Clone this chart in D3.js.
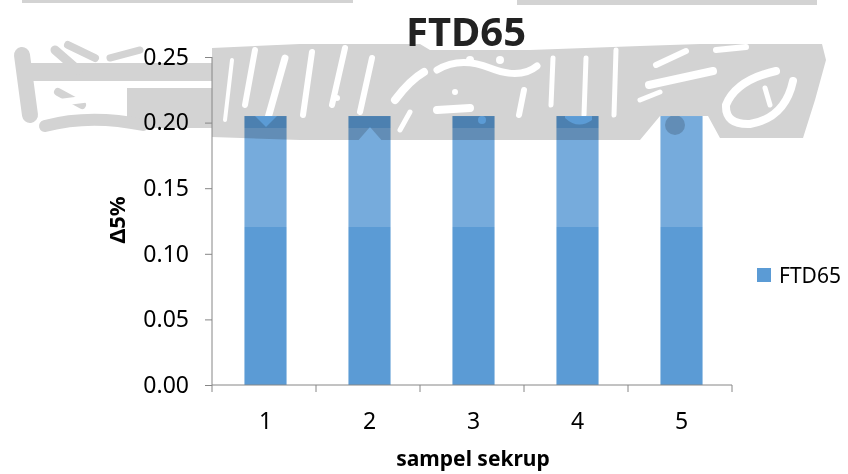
<!DOCTYPE html>
<html>
<head>
<meta charset="utf-8">
<script src="https://cdn.jsdelivr.net/npm/d3@7"></script>
<style>
  html, body { margin: 0; padding: 0; background: #fff; }
  svg { display: block; font-family: "Noto Sans", "Open Sans", sans-serif; }
</style>
</head>
<body>
<svg id="chart" width="848" height="474"></svg>
<script>
// Chart data
const categories = ["1", "2", "3", "4", "5"];
const seriesName = "FTD65";
const values = [0.205, 0.205, 0.205, 0.205, 0.205];
const yTickValues = [0, 0.05, 0.10, 0.15, 0.20, 0.25];
const chartTitle = "FTD65";
const xAxisTitle = "sampel sekrup";
const yAxisTitle = "Δ5%";

const W = 848, H = 474;
const plot = { left: 212, right: 732, top: 57, bottom: 385 };
const barColor = "#5B9BD5";
const axisColor = "#868686";

const svg = d3.select("#chart");

const x = d3.scaleBand()
  .domain(categories)
  .range([plot.left + 1.5, plot.right + 1.5])
  .paddingInner(0.595)
  .paddingOuter(0.2975);

const y = d3.scaleLinear()
  .domain([0, 0.25])
  .range([plot.bottom, plot.top]);

// Bars
svg.append("g")
  .selectAll("rect")
  .data(values)
  .join("rect")
  .attr("x", (d, i) => x(categories[i]))
  .attr("y", d => y(d))
  .attr("width", x.bandwidth())
  .attr("height", d => y(0) - y(d))
  .attr("fill", barColor);

// Light haze across the upper part of the plot (below the grey logo)
const hazeBands = [
  { x0: plot.left + 1, x1: 655, top: 128 },
  { x0: 655, x1: 712, top: 116 },
  { x0: 712, x1: plot.right, top: 128 }
];
svg.append("g").selectAll("rect").data(hazeBands).join("rect")
  .attr("x", d => d.x0)
  .attr("y", d => d.top)
  .attr("width", d => d.x1 - d.x0)
  .attr("height", d => 227 - d.top)
  .attr("fill", "#fff")
  .attr("opacity", 0.17);

// Grey logo across the top, drawn with multiply so text and bars show through
const defs = svg.append("defs");
const mask = defs.append("mask").attr("id", "logo-gaps")
  .attr("maskUnits", "userSpaceOnUse")
  .attr("x", 0).attr("y", 0).attr("width", W).attr("height", H);
mask.append("rect").attr("width", W).attr("height", H).attr("fill", "#fff");

const gapStrokes = [
  ["M245,105 L255,50", 6], ["M268,118 L285,58", 7], ["M303,115 L312,52", 6],
  ["M332,105 L345,48", 6], ["M360,112 L372,58", 6], ["M395,100 Q410,80 424,72", 8],
  ["M437,70 Q460,56 490,68 T537,66", 7], ["M437,110 L470,108", 8],
  ["M519,115 L524,90", 6], ["M551,105 L553,58", 5], ["M584,115 L586,58", 5],
  ["M614,115 L616,50", 5], ["M649,85 L713,71", 8], ["M656,65 L686,51", 6],
  ["M776,71 Q736,80 726,105 Q725,125 750,124 Q785,118 793,81", 8],
  ["M765,88 L770,105", 5], ["M716,50 L746,47", 6],
  ["M48,104 L110,96", 7], ["M150,58 L185,52", 6], ["M100,108 L120,100", 6],
  ["M225,120 L232,60", 4], ["M400,130 L410,112", 5], ["M640,100 L660,92", 5]
];
mask.selectAll("path.gap").data(gapStrokes).join("path")
  .attr("class", "gap")
  .attr("d", d => d[0])
  .attr("fill", "none")
  .attr("stroke", "#000")
  .attr("stroke-width", d => d[1])
  .attr("stroke-linecap", "round");
const gapShapes = [
  "M255,116 L266,127 L277,116 Z",
  "M356,143 L370,127 L384,143 Z",
  "M565,118 Q578,130 592,120 L592,116 L565,116 Z"
];
mask.selectAll("path.hole").data(gapShapes).join("path")
  .attr("class", "hole").attr("d", d => d).attr("fill", "#000");
[[470, 60, 4], [500, 60, 4], [337, 98, 3], [455, 92, 3], [482, 120, 4]].forEach(c =>
  mask.append("circle").attr("cx", c[0]).attr("cy", c[1]).attr("r", c[2]).attr("fill", "#000"));

const logo = svg.append("g")
  .attr("mask", "url(#logo-gaps)")
  .style("mix-blend-mode", "multiply")
  .attr("fill", "#D3D3D3")
  .attr("stroke", "#D3D3D3");

logo.append("rect").attr("x", 22).attr("y", 0).attr("width", 331).attr("height", 3).attr("stroke", "none");
logo.append("rect").attr("x", 517).attr("y", 0).attr("width", 300).attr("height", 5).attr("stroke", "none");
logo.append("rect").attr("x", 20).attr("y", 63).attr("width", 192).attr("height", 18).attr("stroke", "none");
logo.append("rect").attr("x", 127).attr("y", 88).attr("width", 90).attr("height", 40).attr("stroke", "none");
logo.append("path")
  .attr("d", "M212,48 L300,44 L420,44 L430,50 L530,50 L640,46 L700,44 L822,44 L826,60 L815,100 L803,138 L720,138 L708,116 L660,116 L640,140 L430,140 L300,140 L212,137 Z")
  .attr("stroke", "none");
logo.append("circle").attr("cx", 675).attr("cy", 125).attr("r", 10).attr("stroke", "none");
[
  ["M22,55 L30,115", 16], ["M55,50 L78,70", 9], ["M68,45 L95,58", 8],
  ["M58,92 L82,105", 8], ["M45,126 Q90,114 143,125", 12], ["M110,58 L140,50", 7]
].forEach(s => logo.append("path").attr("d", s[0]).attr("fill", "none")
  .attr("stroke-width", s[1]).attr("stroke-linecap", "round"));

// Y axis
const yAxis = d3.axisLeft(y).tickValues(yTickValues).tickSize(7).tickPadding(16)
  .tickFormat(d3.format(".2f"));
const gy = svg.append("g").attr("transform", `translate(${plot.left},0)`).call(yAxis);
gy.select(".domain").attr("stroke", axisColor).attr("d", `M0,${plot.top}V${plot.bottom}`);
gy.selectAll(".tick line").attr("stroke", axisColor);
gy.selectAll(".tick text").attr("font-size", 23).attr("fill", "#000")
  .attr("font-family", "Noto Sans");

// X axis with ticks between categories
const gx = svg.append("g").attr("transform", `translate(0,${plot.bottom})`);
gx.append("line").attr("x1", plot.left).attr("x2", plot.right)
  .attr("stroke", axisColor);
const step = x.step();
const boundaries = d3.range(categories.length + 1).map(i => plot.left + i * step);
gx.selectAll("line.tk").data(boundaries).join("line").attr("class", "tk")
  .attr("x1", d => d).attr("x2", d => d).attr("y1", 0).attr("y2", 7)
  .attr("stroke", axisColor);
gx.selectAll("text").data(categories).join("text")
  .attr("x", d => x(d) + x.bandwidth() / 2)
  .attr("y", 44)
  .attr("text-anchor", "middle")
  .attr("font-size", 23).attr("fill", "#000")
  .text(d => d);

// Titles
svg.append("text").attr("x", 466).attr("y", 46).attr("text-anchor", "middle")
  .attr("font-size", 40).attr("font-weight", "bold").attr("fill", "#222")
  .text(chartTitle);
svg.append("text").attr("x", 473).attr("y", 466).attr("text-anchor", "middle")
  .attr("font-size", 21).attr("font-weight", "bold").attr("fill", "#000")
  .text(xAxisTitle);
svg.append("text")
  .attr("transform", `translate(125,${(plot.top + plot.bottom) / 2 - 1}) rotate(-90)`)
  .attr("text-anchor", "middle")
  .attr("font-size", 22).attr("font-weight", "bold").attr("fill", "#000")
  .text(yAxisTitle);

// Legend
const lg = svg.append("g").attr("transform", "translate(757,268)");
lg.append("rect").attr("width", 14).attr("height", 14).attr("fill", barColor);
lg.append("text").attr("x", 22).attr("y", 15).attr("font-size", 21).attr("fill", "#000")
  .text(seriesName);
</script>
</body>
</html>
